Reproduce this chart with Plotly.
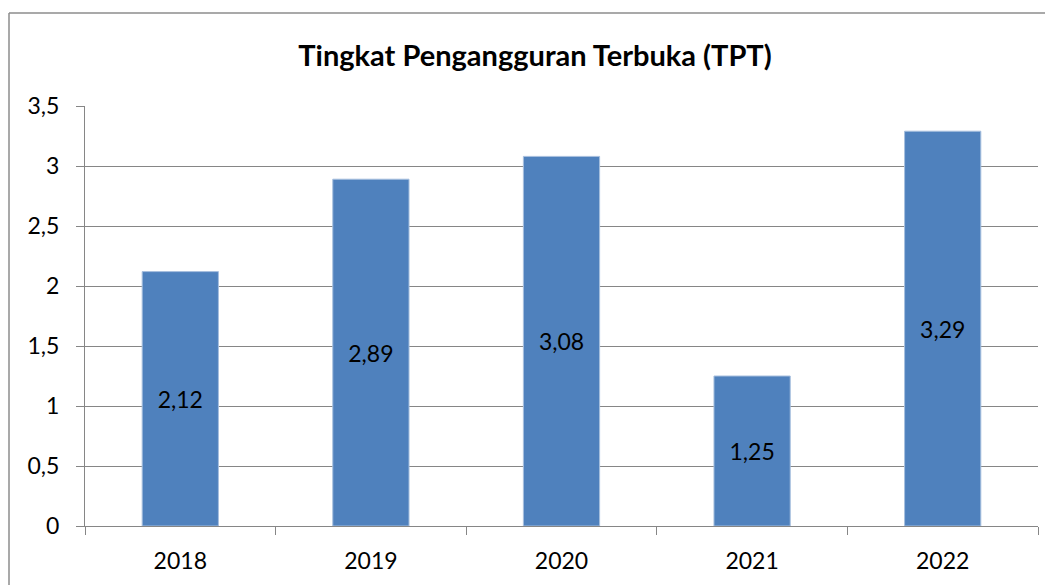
import plotly.graph_objects as go

years = ["2018", "2019", "2020", "2021", "2022"]
tpt = [2.12, 2.89, 3.08, 1.25, 3.29]
y_ticks = [0, 0.5, 1, 1.5, 2, 2.5, 3, 3.5]

# page body has an 8px margin; work in figure coordinates offset by it
OFF = 8
W, H = 1053, 585
L, T = 85 - OFF, 106 - OFF
R = W - (1038 - OFF)
B = H - (526 - OFF)
pw, ph = W - L - R, H - T - B

FONT = "Lato"
grid = "#868686"

fig = go.Figure(go.Bar(
    x=years, y=tpt,
    marker=dict(color="#4F81BD", line=dict(color="#A7BFDE", width=1)),
    width=0.4,
    text=tpt, texttemplate="%{y:.2f}",
    textposition="inside", insidetextanchor="middle",
    textfont=dict(family=FONT, size=23, color="black"),
    constraintext="none",
))

fig.update_layout(
    width=W, height=H,
    margin=dict(l=L, r=R, t=T, b=B, pad=0),
    paper_bgcolor="white", plot_bgcolor="white",
    separators=",.",
    showlegend=False,
    font=dict(family=FONT, size=23, color="black"),
    title=dict(text="<b>Tingkat Pengangguran Terbuka (TPT)</b>",
               x=(535 - OFF) / W, xanchor="center", y=1 - (56 - OFF) / H, yanchor="middle",
               font=dict(family=FONT, size=29, color="black")),
    xaxis=dict(showline=True, linecolor=grid, linewidth=1,
               ticks="outside", ticklen=8, tickcolor=grid, tickwidth=1,
               tickson="boundaries", showgrid=False,
               ticklabelstandoff=14,
               tickfont=dict(family=FONT, size=23, color="black")),
    yaxis=dict(range=[0, 3.5], tickvals=y_ticks, showline=True, linecolor=grid, linewidth=1,
               ticks="outside", ticklen=8, tickcolor=grid, tickwidth=1,
               gridcolor=grid, gridwidth=1, zeroline=False,
               ticklabelstandoff=12,
               tickfont=dict(family=FONT, size=23, color="black")),
)

# chart area border (left and top edges visible)
bx = (9 - OFF - L) / pw
by = 1 + (T - (13 - OFF)) / ph
fig.add_shape(type="line", xref="paper", yref="paper", x0=bx, x1=bx, y0=-(B + 5) / ph, y1=by,
              line=dict(color="#8C8C8C", width=1.5))
fig.add_shape(type="line", xref="paper", yref="paper", x0=bx, x1=1 + (R + 5) / pw, y0=by, y1=by,
              line=dict(color="#8C8C8C", width=1.5))

fig.write_html("out.html")
